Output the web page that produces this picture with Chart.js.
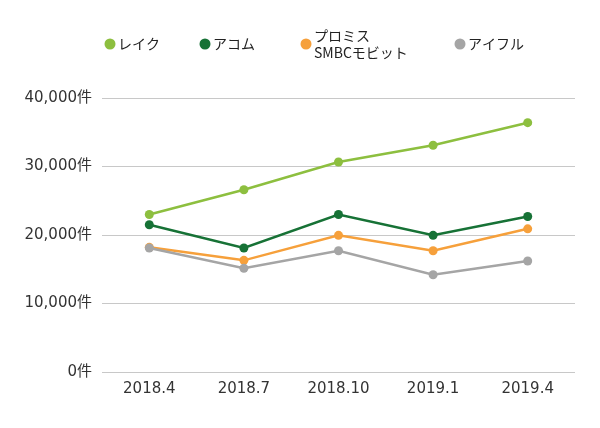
<!DOCTYPE html>
<html>
<head>
<meta charset="utf-8">
<script src="https://cdn.jsdelivr.net/npm/chart.js@4"></script>
<style>
html,body{margin:0;padding:0;background:#fff;}
#wrap{width:600px;height:428px;}
</style>
</head>
<body>
<div id="wrap"><canvas id="c" width="600" height="428"></canvas></div>
<script>
const categories = ['2018.4', '2018.7', '2018.10', '2019.1', '2019.4'];
const lake    = [23000, 26600, 30650, 33100, 36400];
const acom    = [21500, 18100, 23000, 19950, 22700];
const promise = [18200, 16300, 19950, 17700, 20900];
const aiful   = [18100, 15150, 17700, 14200, 16200];
const seriesNames = ['レイク', 'アコム', ['プロミス', 'SMBCモビット'], 'アイフル'];
const yTicks = [0, 10000, 20000, 30000, 40000];
const unit = '件';

const colors = ['#8dbf3f', '#177236', '#f6a03b', '#a5a5a5'];
const FONT = '"Noto Sans CJK JP", "Noto Sans", sans-serif';
const TICKFONT = '"DejaVu Sans", "Noto Sans CJK JP", sans-serif';

const legendPlugin = {
  id: 'customLegend',
  afterDraw(chart) {
    const ctx = chart.ctx;
    const xs = [110, 205, 306, 460];
    const cy = 44;
    ctx.save();
    ctx.font = '14px ' + FONT;
    ctx.textBaseline = 'middle';
    ctx.textAlign = 'left';
    chart.data.datasets.forEach((ds, i) => {
      ctx.fillStyle = ds.borderColor;
      ctx.beginPath();
      ctx.arc(xs[i], cy, 5.5, 0, Math.PI * 2);
      ctx.fill();
      ctx.fillStyle = '#222';
      const name = seriesNames[i];
      if (Array.isArray(name)) {
        ctx.fillText(name[0], xs[i] + 8, cy - 8);
        ctx.fillText(name[1], xs[i] + 8, cy + 9);
      } else {
        ctx.fillText(name, xs[i] + 8, cy);
      }
    });
    ctx.restore();
  }
};

const dataArrays = [lake, acom, promise, aiful];
new Chart(document.getElementById('c'), {
  type: 'line',
  data: {
    labels: categories,
    datasets: dataArrays.map((d, i) => ({
      label: Array.isArray(seriesNames[i]) ? seriesNames[i].join(' ') : seriesNames[i],
      data: d,
      borderColor: colors[i],
      backgroundColor: colors[i],
      pointBackgroundColor: colors[i],
      pointBorderWidth: 0,
      pointRadius: 4.5,
      borderWidth: 2.5,
      tension: 0,
      order: 4 - i
    }))
  },
  options: {
    responsive: false,
    animation: false,
    devicePixelRatio: 1,
    layout: { padding: { top: 98, right: 25, left: 0, bottom: 22 } },
    plugins: {
      legend: { display: false },
      tooltip: { enabled: false }
    },
    scales: {
      x: {
        offset: true,
        grid: { display: false, drawTicks: false },
        border: { display: false },
        ticks: { color: '#333', font: { family: TICKFONT, size: 15 }, padding: 8 }
      },
      y: {
        min: 0,
        max: 40000,
        afterBuildTicks(axis) { axis.ticks = yTicks.map(v => ({ value: v })); },
        afterFit(axis) { axis.width = 102; },
        grid: { color: '#c8c8c8', drawTicks: false, lineWidth: 1 },
        border: { display: false },
        ticks: {
          color: '#333',
          font: { family: TICKFONT, size: 15 },
          padding: 10,
          callback: v => v.toLocaleString('en-US') + unit
        }
      }
    }
  },
  plugins: [legendPlugin]
});
</script>
</body>
</html>
